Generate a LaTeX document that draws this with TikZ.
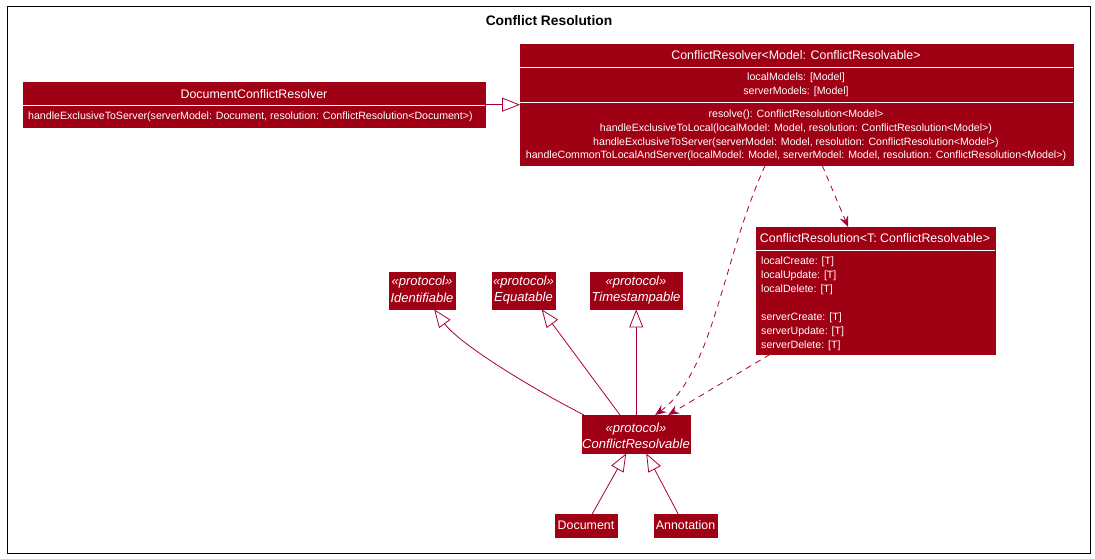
\documentclass[tikz,border=0pt]{standalone}
\usepackage{fontspec}
\setmainfont{Liberation Sans}
\usetikzlibrary{arrows.meta}
\definecolor{boxred}{RGB}{160,0,20}
\definecolor{linered}{RGB}{168,0,54}
\begin{document}
\begin{tikzpicture}[x=1pt,y=-1pt,
  cls/.style={fill=boxred, draw=boxred, inner sep=0pt, anchor=north west},
  txt/.style={text=white, inner sep=0pt, font=\fontsize{10.6}{13}\selectfont},
  hdr/.style={text=white, inner sep=0pt, font=\fontsize{12.4}{14}\selectfont},
  prot/.style={text=white, inner sep=0pt, font=\itshape\fontsize{13}{15}\selectfont},
  sep/.style={draw=white, line width=0.8pt},
  inh/.style={draw=linered, line width=0.8pt, -{Triangle[open, length=18pt, width=14pt, fill=white]}},
  dep/.style={draw=linered, line width=0.8pt, dash pattern=on 6pt off 5pt, -{Stealth[length=11pt, width=9pt, inset=4pt]}}]
\useasboundingbox (0,0) rectangle (1095,559);
\fill[white] (0,0) rectangle (1095,559);
\draw[line width=1pt] (7,7) rectangle (1090,553);
\node[font=\bfseries\fontsize{13.8}{16}\selectfont] (title) at (549,20.5) {Conflict Resolution};

% DocumentConflictResolver
\node[cls, minimum width=462pt, minimum height=45pt] (docres) at (23,82) {};
\node[hdr] (docresH) at (254,94) {DocumentConflictResolver};
\draw[sep] (23,105) -- (485,105);
\node[txt, anchor=west] (docresM) at (28,117) {handleExclusiveToServer(serverModel: Document, resolution: ConflictResolution<Document>)};

% ConflictResolver
\node[cls, minimum width=553pt, minimum height=121pt] (resolver) at (520,44) {};
\node[hdr] (resolverH) at (796,55) {ConflictResolver<Model: ConflictResolvable>};
\draw[sep] (520,67) -- (1073,67);
\node[txt] (resolverA1) at (796,77.5) {localModels: [Model]};
\node[txt] (resolverA2) at (796,91.5) {serverModels: [Model]};
\draw[sep] (520,102) -- (1073,102);
\node[txt] (resolverM1) at (796,114.5) {resolve(): ConflictResolution<Model>};
\node[txt] (resolverM2) at (796,128.5) {handleExclusiveToLocal(localModel: Model, resolution: ConflictResolution<Model>)};
\node[txt] (resolverM3) at (796,142.5) {handleExclusiveToServer(serverModel: Model, resolution: ConflictResolution<Model>)};
\node[txt] (resolverM4) at (796,156) {handleCommonToLocalAndServer(localModel: Model, serverModel: Model, resolution: ConflictResolution<Model>)};

% ConflictResolution
\node[cls, minimum width=239pt, minimum height=127pt] (cres) at (756,227) {};
\node[hdr] (cresH) at (875,238) {ConflictResolution<T: ConflictResolvable>};
\draw[sep] (756,250) -- (995,250);
\node[txt, anchor=west] (cresA1) at (761,262) {localCreate: [T]};
\node[txt, anchor=west] (cresA2) at (761,276) {localUpdate: [T]};
\node[txt, anchor=west] (cresA3) at (761,290) {localDelete: [T]};
\node[txt, anchor=west] (cresA4) at (761,318) {serverCreate: [T]};
\node[txt, anchor=west] (cresA5) at (761,332) {serverUpdate: [T]};
\node[txt, anchor=west] (cresA6) at (761,346) {serverDelete: [T]};

% protocols
\node[cls, minimum width=66pt, minimum height=37pt] (ident) at (389,272) {};
\node[prot] (identS) at (422,282.5) {«protocol»};
\node[prot] (identN) at (422,298) {Identifiable};
\node[cls, minimum width=63pt, minimum height=37pt] (equ) at (492,272) {};
\node[prot] (equS) at (523.5,282.5) {«protocol»};
\node[prot] (equN) at (523.5,298) {Equatable};
\node[cls, minimum width=92pt, minimum height=37pt] (tims) at (590,272) {};
\node[prot] (timsS) at (636,282.5) {«protocol»};
\node[prot] (timsN) at (636,298) {Timestampable};
\node[cls, minimum width=108pt, minimum height=38pt] (crv) at (582,415) {};
\node[prot] (crvS) at (636,429) {«protocol»};
\node[prot] (crvN) at (636,444) {ConflictResolvable};

% Document, Annotation
\node[cls, minimum width=62pt, minimum height=23pt] (doc) at (555,514) {};
\node[hdr] (docT) at (586,525.5) {Document};
\node[cls, minimum width=63pt, minimum height=23pt] (ann) at (654,514) {};
\node[hdr] (annT) at (685.5,525.5) {Annotation};

% connectors
\draw[inh] (docres.east) -- (docres.east -| resolver.west);
\draw[inh] ([xshift=2pt]crv.north west) .. controls (520,382) and (458,342) .. ([xshift=12pt]ident.south);
\draw[inh] ([xshift=38pt]crv.north west) -- ([xshift=18pt]equ.south);
\draw[inh] (crv.north) -- (tims.south);
\draw[dep] ([xshift=-31.5pt]resolver.south) .. controls (722,260) and (714,372) .. ([xshift=19pt]crv.north);
\draw[dep] ([xshift=25.5pt]resolver.south) -- ([xshift=-27.5pt]cres.north);
\draw[dep] ([xshift=14pt]cres.south west) -- ([xshift=32pt]crv.north);
\draw[inh] ([xshift=6pt]doc.north) -- ([xshift=-10pt]crv.south);
\draw[inh] ([xshift=-7.5pt]ann.north) -- ([xshift=10pt]crv.south);
\end{tikzpicture}
\end{document}
